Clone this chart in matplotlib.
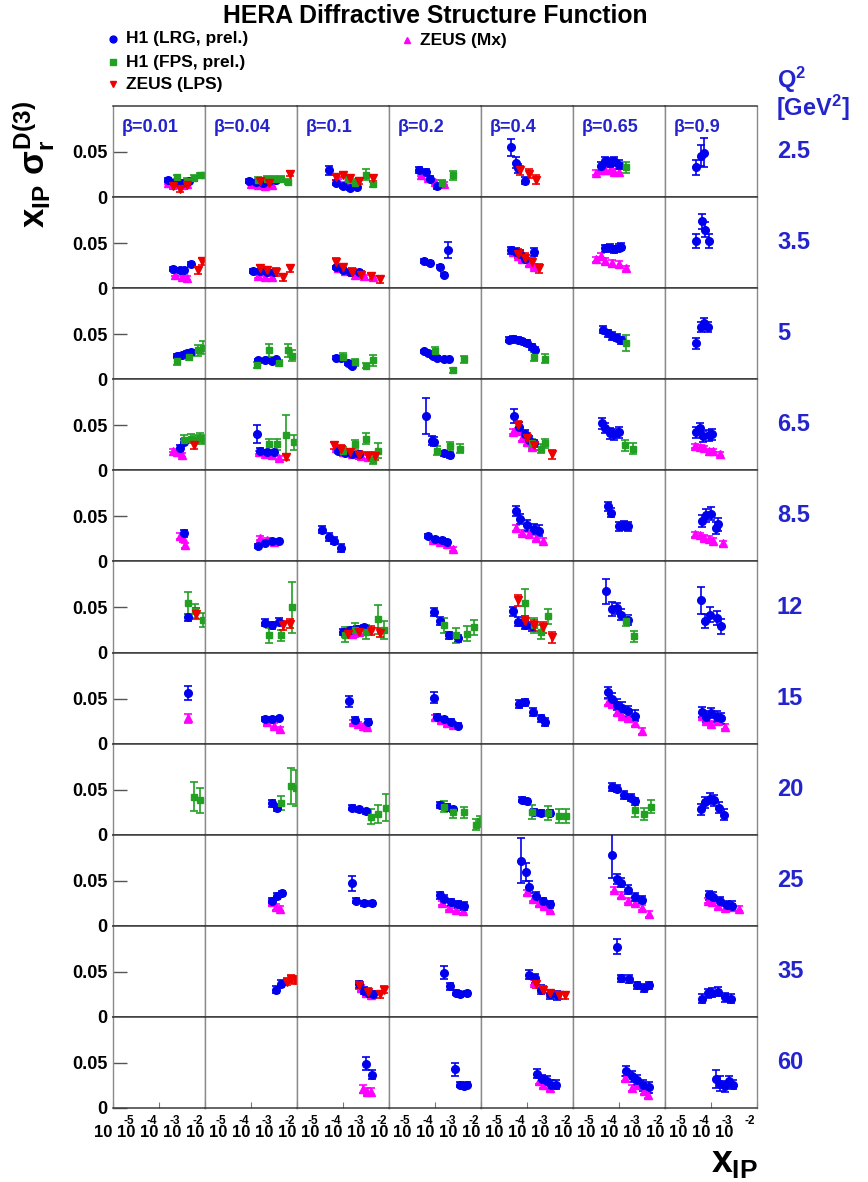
import numpy as np
import matplotlib.pyplot as plt
from matplotlib.lines import Line2D
from matplotlib.transforms import ScaledTranslation

# ---------------- data ----------------
q2_values = ["2.5", "3.5", "5", "6.5", "8.5", "12", "15", "20", "25", "35", "60"]
beta_values = ["0.01", "0.04", "0.1", "0.2", "0.4", "0.65", "0.9"]
xlabel_exps = [-5, -4, -3, -2]

# each entry: (Q2 row, beta column, log10 x_IP, x_IP sigma_r^D(3), error)
h1_lrg = [
    (0, 0, [-3.6, -3.3, -3.0, -2.7], [0.019, 0.017, 0.016, 0.018], 0.002),
    (0, 1, [-4.1, -3.8, -3.5, -3.2, -2.9], [0.018, 0.017, 0.016, 0.018, 0.019], 0.002),
    (0, 2, [-4.6, -4.3, -4.0, -3.7, -3.4], [0.030, 0.016, 0.012, 0.010, 0.011], [0.005, 0.003, 0.002, 0.002, 0.002]),
    (0, 3, [-4.7, -4.4, -4.2, -3.9], [0.030, 0.028, 0.020, 0.012], 0.003),
    (0, 4, [-4.7, -4.5, -4.4, -4.1], [0.055, 0.038, 0.032, 0.018], [0.009, 0.006, 0.005, 0.004]),
    (0, 5, [-4.8, -4.6, -4.4, -4.2, -4.0], [0.034, 0.040, 0.038, 0.040, 0.036], 0.005),
    (0, 6, [-4.65, -4.45, -4.3], [0.033, 0.046, 0.049], [0.008, 0.012, 0.016]),
    (1, 0, [-3.4, -3.1, -2.9, -2.6], [0.021, 0.020, 0.020, 0.027], 0.002),
    (1, 1, [-3.9, -3.6, -3.3, -3.0], [0.019, 0.019, 0.018, 0.018], 0.002),
    (1, 2, [-4.3, -4.0, -3.7, -3.3], [0.023, 0.020, 0.018, 0.018], 0.002),
    (1, 3, [-4.5, -4.2, -3.8, -3.6, -3.45], [0.030, 0.028, 0.024, 0.015, 0.042], [0.002, 0.002, 0.002, 0.002, 0.009]),
    (1, 4, [-4.7, -4.5, -4.3, -4.1, -3.7], [0.042, 0.040, 0.038, 0.032, 0.040], 0.004),
    (1, 5, [-4.6, -4.4, -4.2, -4.0, -3.9], [0.044, 0.045, 0.043, 0.045, 0.046], 0.004),
    (1, 6, [-4.65, -4.4, -4.25, -4.1], [0.052, 0.074, 0.065, 0.052], 0.008),
    (2, 0, [-3.2, -3.0, -2.8, -2.6], [0.026, 0.027, 0.029, 0.030], 0.002),
    (2, 1, [-3.7, -3.4, -3.1, -2.9], [0.021, 0.021, 0.020, 0.022], 0.002),
    (2, 2, [-4.3, -4.1, -3.8, -3.6], [0.024, 0.024, 0.018, 0.015], 0.002),
    (2, 3, [-4.5, -4.3, -4.1, -3.9, -3.6, -3.4], [0.031, 0.029, 0.026, 0.024, 0.022, 0.022], 0.002),
    (2, 4, [-4.8, -4.6, -4.4, -4.2, -4.0, -3.8, -3.65], [0.044, 0.045, 0.044, 0.042, 0.040, 0.036, 0.033], 0.003),
    (2, 5, [-4.7, -4.5, -4.3, -4.1, -3.9], [0.055, 0.051, 0.048, 0.046, 0.043], 0.004),
    (2, 6, [-4.65, -4.45, -4.3, -4.15], [0.040, 0.058, 0.062, 0.058], 0.006),
    (3, 0, [-3.1, -2.9], [0.025, 0.032], 0.003),
    (3, 1, [-3.75, -3.6, -3.3, -3.0], [0.040, 0.022, 0.020, 0.020], [0.010, 0.003, 0.003, 0.003]),
    (3, 2, [-4.2, -3.9, -3.6, -3.3], [0.021, 0.019, 0.018, 0.018], 0.002),
    (3, 3, [-4.4, -4.15, -4.05, -3.6, -3.35], [0.060, 0.033, 0.032, 0.019, 0.017], [0.020, 0.005, 0.005, 0.003, 0.003]),
    (3, 4, [-4.55, -4.35, -4.1, -3.9, -3.7], [0.060, 0.048, 0.040, 0.034, 0.030], [0.008, 0.006, 0.005, 0.004, 0.004]),
    (3, 5, [-4.75, -4.6, -4.4, -4.2, -4.0], [0.052, 0.047, 0.041, 0.040, 0.042], 0.006),
    (3, 6, [-4.65, -4.5, -4.35, -4.1, -3.95], [0.042, 0.047, 0.038, 0.039, 0.040], 0.006),
    (4, 0, [-2.9], [0.031], 0.004),
    (4, 1, [-3.7, -3.4, -3.1, -2.8], [0.017, 0.021, 0.023, 0.023], 0.002),
    (4, 2, [-4.9, -4.6, -4.4, -4.1], [0.035, 0.027, 0.023, 0.015], 0.004),
    (4, 3, [-4.3, -4.0, -3.7, -3.5], [0.028, 0.025, 0.024, 0.022], 0.002),
    (4, 4, [-4.5, -4.3, -4.0, -3.7, -3.5], [0.056, 0.047, 0.040, 0.036, 0.034], 0.006),
    (4, 5, [-4.5, -4.35, -4.0, -3.8, -3.6], [0.061, 0.054, 0.039, 0.040, 0.039], 0.005),
    (4, 6, [-4.4, -4.2, -4.0, -3.8, -3.7], [0.045, 0.051, 0.053, 0.037, 0.041], 0.007),
    (5, 0, [-2.75], [0.039], 0.004),
    (5, 1, [-3.4, -3.1, -2.8], [0.033, 0.030, 0.034], 0.004),
    (5, 2, [-4.0, -3.7, -3.4, -3.1], [0.023, 0.025, 0.026, 0.028], 0.003),
    (5, 3, [-4.05, -3.8, -3.4, -3.0], [0.045, 0.035, 0.019, 0.016], 0.004),
    (5, 4, [-4.6, -4.4, -4.1, -3.8], [0.046, 0.034, 0.031, 0.029], 0.005),
    (5, 5, [-4.55, -4.3, -4.1, -3.9, -3.6], [0.068, 0.048, 0.049, 0.042, 0.036], [0.014, 0.008, 0.006, 0.006, 0.006]),
    (5, 6, [-4.45, -4.25, -4.05, -3.75, -3.55], [0.058, 0.035, 0.042, 0.038, 0.029], [0.015, 0.008, 0.008, 0.008, 0.008]),
    (6, 0, [-2.75], [0.056], 0.008),
    (6, 1, [-3.4, -3.1, -2.8], [0.027, 0.027, 0.028], 0.002),
    (6, 2, [-3.75, -3.5, -2.9], [0.047, 0.026, 0.024], [0.006, 0.003, 0.003]),
    (6, 3, [-4.05, -3.9, -3.6, -3.3, -3.0], [0.051, 0.030, 0.027, 0.024, 0.020], [0.006, 0.003, 0.003, 0.003, 0.003]),
    (6, 4, [-4.35, -4.1, -3.75, -3.4, -3.2], [0.044, 0.046, 0.035, 0.028, 0.024], 0.004),
    (6, 5, [-4.5, -4.3, -4.1, -3.85, -3.6, -3.3], [0.057, 0.050, 0.043, 0.040, 0.036, 0.031], 0.006),
    (6, 6, [-4.4, -4.2, -4.0, -3.75, -3.55], [0.035, 0.030, 0.034, 0.030, 0.028], 0.006),
    (7, 1, [-3.1, -2.85], [0.035, 0.030], 0.004),
    (7, 2, [-3.6, -3.3, -3.0], [0.030, 0.028, 0.026], 0.003),
    (7, 3, [-3.8, -3.5, -3.2], [0.033, 0.031, 0.028], 0.003),
    (7, 4, [-4.2, -4.0, -3.7, -3.4, -3.0], [0.039, 0.037, 0.025, 0.024, 0.024], 0.003),
    (7, 5, [-4.3, -4.1, -3.8, -3.5, -3.3], [0.053, 0.051, 0.044, 0.041, 0.037], 0.004),
    (7, 6, [-4.45, -4.25, -4.05, -3.85, -3.65, -3.45], [0.028, 0.036, 0.040, 0.038, 0.030, 0.022], 0.006),
    (8, 1, [-3.1, -2.85, -2.65], [0.028, 0.033, 0.036], 0.003),
    (8, 2, [-3.6, -3.45, -3.1, -2.75], [0.047, 0.028, 0.025, 0.025], [0.008, 0.003, 0.003, 0.003]),
    (8, 3, [-3.8, -3.6, -3.3, -3.0, -2.75], [0.034, 0.030, 0.026, 0.024, 0.022], 0.004),
    (8, 4, [-4.25, -4.05, -3.9, -3.6, -3.3, -3.0], [0.072, 0.060, 0.043, 0.033, 0.027, 0.024], [0.025, 0.010, 0.007, 0.005, 0.004, 0.004]),
    (8, 5, [-4.3, -4.1, -3.9, -3.6, -3.3, -3.0], [0.078, 0.052, 0.048, 0.040, 0.032, 0.029], [0.025, 0.006, 0.005, 0.005, 0.004, 0.004]),
    (8, 6, [-4.1, -3.9, -3.6, -3.3, -3.1], [0.034, 0.032, 0.027, 0.023, 0.022], 0.005),
    (9, 1, [-2.9, -2.7], [0.030, 0.037], 0.004),
    (9, 2, [-3.3, -3.1, -2.9, -2.7], [0.036, 0.029, 0.027, 0.025], 0.004),
    (9, 3, [-3.6, -3.35, -3.1, -2.9, -2.6], [0.049, 0.034, 0.027, 0.025, 0.026], [0.007, 0.004, 0.003, 0.003, 0.003]),
    (9, 4, [-3.9, -3.65, -3.4, -3.0, -2.7], [0.047, 0.043, 0.030, 0.025, 0.024], 0.005),
    (9, 5, [-4.1, -3.9, -3.55, -3.2, -2.9, -2.7], [0.078, 0.043, 0.042, 0.035, 0.032, 0.035], [0.008, 0.004, 0.004, 0.004, 0.004, 0.004]),
    (9, 6, [-4.4, -4.15, -3.95, -3.7, -3.4, -3.15], [0.020, 0.026, 0.027, 0.028, 0.022, 0.020], 0.005),
    (10, 2, [-3.0, -2.75], [0.049, 0.037], [0.007, 0.005]),
    (10, 3, [-3.15, -2.9, -2.75, -2.6], [0.043, 0.026, 0.024, 0.026], [0.007, 0.003, 0.003, 0.003]),
    (10, 4, [-3.55, -3.35, -3.15, -2.95, -2.75], [0.038, 0.032, 0.030, 0.026, 0.026], 0.005),
    (10, 5, [-3.7, -3.45, -3.2, -2.95, -2.7], [0.041, 0.035, 0.031, 0.025, 0.023], 0.006),
    (10, 6, [-3.8, -3.6, -3.4, -3.2, -3.05], [0.032, 0.027, 0.024, 0.030, 0.026], [0.010, 0.008, 0.006, 0.006, 0.005]),
]

h1_fps = [
    (0, 0, [-3.2, -2.8, -2.5, -2.2, -2.05], [0.022, 0.018, 0.021, 0.024, 0.024], 0.003),
    (0, 1, [-3.7, -3.3, -3.0, -2.7, -2.4], [0.019, 0.020, 0.020, 0.020, 0.017], 0.003),
    (0, 2, [-3.8, -3.5, -3.0, -2.7], [0.020, 0.016, 0.025, 0.014], [0.004, 0.004, 0.006, 0.003]),
    (0, 3, [-3.7, -3.2], [0.016, 0.024], [0.003, 0.005]),
    (0, 5, [-3.7], [0.033], 0.006),
    (2, 0, [-3.2, -2.7, -2.3, -2.1], [0.020, 0.025, 0.032, 0.035], [0.004, 0.004, 0.006, 0.007]),
    (2, 1, [-3.75, -3.2, -2.8, -2.4, -2.2], [0.016, 0.032, 0.018, 0.032, 0.026], [0.003, 0.007, 0.003, 0.007, 0.006]),
    (2, 2, [-4.0, -3.5, -3.0, -2.7], [0.025, 0.019, 0.015, 0.021], [0.004, 0.004, 0.003, 0.006]),
    (2, 3, [-4.0, -3.2, -2.75], [0.031, 0.010, 0.022], [0.005, 0.003, 0.004]),
    (2, 4, [-3.7, -3.2], [0.025, 0.023], 0.005),
    (2, 5, [-3.7], [0.040], 0.009),
    (3, 0, [-2.9, -2.6, -2.4, -2.2, -2.05], [0.034, 0.035, 0.034, 0.036, 0.034], 0.005),
    (3, 1, [-3.2, -2.85, -2.5, -2.15], [0.029, 0.029, 0.039, 0.031], [0.006, 0.006, 0.022, 0.008]),
    (3, 2, [-4.0, -3.5, -3.0, -2.7, -2.5], [0.022, 0.029, 0.035, 0.011, 0.022], [0.004, 0.005, 0.006, 0.004, 0.008]),
    (3, 3, [-3.9, -3.35, -2.9], [0.022, 0.027, 0.024], 0.005),
    (3, 4, [-3.8, -3.4, -3.2], [0.030, 0.024, 0.030], 0.005),
    (3, 5, [-3.75, -3.4], [0.028, 0.024], 0.006),
    (5, 0, [-2.75, -2.45, -2.1], [0.055, 0.046, 0.036], [0.012, 0.008, 0.008]),
    (5, 1, [-3.2, -2.7, -2.2], [0.019, 0.019, 0.050], [0.008, 0.006, 0.028]),
    (5, 2, [-3.9, -3.5, -3.0, -2.5, -2.2], [0.020, 0.025, 0.023, 0.037, 0.025], [0.008, 0.008, 0.008, 0.016, 0.010]),
    (5, 3, [-3.6, -3.1, -2.6, -2.3], [0.030, 0.019, 0.021, 0.028], 0.008),
    (5, 4, [-4.1, -3.7, -3.4, -3.1], [0.055, 0.030, 0.023, 0.040], [0.015, 0.008, 0.008, 0.008]),
    (5, 5, [-3.7, -3.35], [0.035, 0.018], 0.006),
    (7, 0, [-2.5, -2.2], [0.042, 0.038], [0.016, 0.014]),
    (7, 1, [-2.7, -2.25, -2.05], [0.035, 0.054, 0.052], [0.008, 0.020, 0.020]),
    (7, 2, [-2.8, -2.5, -2.15], [0.020, 0.023, 0.030], [0.008, 0.010, 0.015]),
    (7, 3, [-3.6, -3.2, -2.75, -2.2, -2.05], [0.031, 0.025, 0.025, 0.011, 0.015], 0.006),
    (7, 4, [-3.8, -3.1, -2.6, -2.3], [0.025, 0.024, 0.021, 0.021], 0.008),
    (7, 5, [-3.3, -2.9, -2.6], [0.027, 0.023, 0.031], 0.007),
]

zeus_lps = [
    (0, 0, [-3.4, -3.1, -2.8], [0.012, 0.009, 0.013], 0.003),
    (0, 1, [-3.6, -3.2, -2.3], [0.018, 0.016, 0.026], 0.003),
    (0, 2, [-4.3, -4.0, -3.7, -3.3, -2.7], [0.022, 0.025, 0.021, 0.018, 0.021], 0.003),
    (0, 4, [-4.3, -3.9, -3.6], [0.030, 0.026, 0.019], 0.005),
    (1, 0, [-2.3, -2.15], [0.020, 0.030], 0.004),
    (1, 1, [-3.6, -3.3, -2.9, -2.6, -2.3], [0.022, 0.020, 0.018, 0.012, 0.022], 0.004),
    (1, 2, [-4.3, -4.0, -3.6, -3.2, -2.8, -2.4], [0.029, 0.023, 0.018, 0.015, 0.013, 0.010], 0.004),
    (1, 4, [-4.4, -4.1, -3.8, -3.5], [0.038, 0.034, 0.029, 0.022], 0.005),
    (3, 0, [-2.5], [0.028], 0.004),
    (3, 1, [-2.5], [0.015], 0.003),
    (3, 2, [-4.4, -4.1, -3.7, -3.3, -2.9, -2.6], [0.028, 0.024, 0.020, 0.017, 0.016, 0.016], 0.004),
    (3, 4, [-4.4, -4.0, -3.7, -2.9], [0.050, 0.036, 0.028, 0.018], 0.005),
    (5, 0, [-2.4], [0.043], 0.006),
    (5, 1, [-2.6, -2.3], [0.030, 0.032], 0.005),
    (5, 2, [-3.8, -3.3, -2.8, -2.4], [0.021, 0.023, 0.024, 0.022], 0.005),
    (5, 4, [-4.4, -4.1, -3.7, -3.3, -2.9], [0.058, 0.035, 0.030, 0.028, 0.017], 0.006),
    (9, 1, [-2.45, -2.25, -2.1], [0.039, 0.042, 0.041], 0.004),
    (9, 2, [-3.3, -2.9, -2.4, -2.2], [0.035, 0.028, 0.025, 0.030], 0.004),
    (9, 4, [-3.6, -3.3, -3.0, -2.6, -2.35], [0.036, 0.030, 0.026, 0.024, 0.024], 0.004),
]

zeus_mx = [
    (0, 0, [-3.6, -3.4, -3.2, -3.0, -2.8], [0.016, 0.015, 0.014, 0.013, 0.015], 0.002),
    (0, 1, [-4.0, -3.7, -3.4, -3.1], [0.015, 0.013, 0.012, 0.013], 0.002),
    (0, 2, [-4.2, -3.9], [0.018, 0.015], 0.002),
    (0, 3, [-4.6, -4.3, -4.0, -3.6], [0.025, 0.021, 0.017, 0.015], 0.002),
    (0, 5, [-5.0, -4.8, -4.6, -4.4, -4.2, -4.0], [0.027, 0.030, 0.030, 0.030, 0.028, 0.028], 0.003),
    (1, 0, [-3.3, -3.0, -2.8], [0.015, 0.012, 0.011], 0.002),
    (1, 1, [-3.7, -3.4, -3.1], [0.013, 0.012, 0.012], 0.002),
    (1, 2, [-4.2, -3.9, -3.5, -3.1, -2.7], [0.022, 0.019, 0.015, 0.013, 0.012], 0.002),
    (1, 4, [-4.6, -4.4, -4.2, -3.9, -3.7], [0.040, 0.036, 0.032, 0.028, 0.024], 0.003),
    (1, 5, [-5.0, -4.8, -4.6, -4.3, -4.0, -3.7], [0.032, 0.036, 0.030, 0.028, 0.027, 0.022], 0.003),
    (3, 0, [-3.4, -3.2, -3.0], [0.022, 0.020, 0.017], 0.002),
    (3, 1, [-3.65, -3.4, -3.1, -2.8], [0.020, 0.018, 0.017, 0.014], 0.002),
    (3, 2, [-4.3, -4.0, -3.6, -3.2, -2.9], [0.025, 0.020, 0.018, 0.016, 0.015], 0.002),
    (3, 4, [-4.6, -4.4, -4.2, -4.0, -3.8], [0.043, 0.044, 0.036, 0.031, 0.026], 0.003),
    (3, 6, [-4.7, -4.5, -4.3, -4.1, -3.9, -3.6], [0.027, 0.026, 0.025, 0.022, 0.022, 0.018], 0.002),
    (4, 0, [-3.1, -2.95, -2.85], [0.028, 0.026, 0.018], 0.003),
    (4, 1, [-3.6, -3.3, -3.0], [0.026, 0.024, 0.022], 0.002),
    (4, 3, [-4.1, -3.8, -3.5, -3.2], [0.024, 0.022, 0.019, 0.014], 0.002),
    (4, 4, [-4.5, -4.2, -3.9, -3.6, -3.3], [0.037, 0.032, 0.030, 0.026, 0.023], 0.003),
    (4, 6, [-4.7, -4.5, -4.3, -4.1, -3.9, -3.5], [0.030, 0.029, 0.026, 0.025, 0.023, 0.020], 0.003),
    (5, 2, [-3.9, -3.6, -3.3], [0.022, 0.021, 0.023], 0.003),
    (6, 0, [-2.75], [0.028], 0.005),
    (6, 1, [-3.3, -3.0, -2.75], [0.024, 0.020, 0.016], 0.003),
    (6, 2, [-3.55, -3.35, -3.15, -2.95], [0.024, 0.022, 0.020, 0.019], 0.002),
    (6, 3, [-4.0, -3.75, -3.5, -3.2], [0.029, 0.026, 0.023, 0.021], 0.003),
    (6, 5, [-4.5, -4.3, -4.1, -3.85, -3.6, -3.3, -3.0], [0.046, 0.044, 0.035, 0.031, 0.028, 0.023, 0.014], 0.003),
    (6, 6, [-4.4, -4.2, -4.0, -3.7, -3.4], [0.031, 0.025, 0.022, 0.025, 0.019], 0.003),
    (8, 1, [-3.1, -2.9, -2.75], [0.026, 0.021, 0.019], 0.003),
    (8, 3, [-3.7, -3.4, -3.1, -2.8], [0.025, 0.020, 0.018, 0.016], 0.002),
    (8, 4, [-4.0, -3.75, -3.5, -3.25, -3.0], [0.037, 0.030, 0.025, 0.022, 0.018], 0.003),
    (8, 5, [-4.2, -3.9, -3.6, -3.3, -3.0, -2.7], [0.040, 0.034, 0.028, 0.025, 0.020, 0.013], 0.003),
    (8, 6, [-4.15, -3.95, -3.7, -3.4, -3.1, -2.8], [0.028, 0.026, 0.022, 0.020, 0.021, 0.019], 0.003),
    (9, 2, [-3.2, -3.0, -2.8], [0.032, 0.026, 0.024], 0.003),
    (9, 4, [-3.7, -3.4], [0.038, 0.031], 0.003),
    (10, 2, [-3.15, -2.95, -2.8], [0.021, 0.018, 0.018], 0.004),
    (10, 4, [-3.5, -3.3, -3.0], [0.030, 0.025, 0.022], 0.003),
    (10, 5, [-3.75, -3.45, -3.2, -2.9, -2.75], [0.033, 0.022, 0.025, 0.019, 0.014], 0.003),
]

# ---------------- style ----------------
plt.rcParams['font.family'] = ['Liberation Sans', 'DejaVu Sans']
plt.rcParams['font.weight'] = 'bold'
plt.rcParams['mathtext.fontset'] = 'custom'
plt.rcParams['mathtext.rm'] = 'Liberation Sans:bold'
plt.rcParams['mathtext.it'] = 'Liberation Sans:bold'
plt.rcParams['mathtext.bf'] = 'Liberation Sans:bold'

BLUE_TXT = '#2424cc'
series = [
    (zeus_mx, '^', '#ff00ff', 5.5, 'ZEUS (Mx)'),
    (h1_lrg, 'o', '#0000ee', 5.5, 'H1 (LRG, prel.)'),
    (h1_fps, 's', '#22a022', 4.8, 'H1 (FPS, prel.)'),
    (zeus_lps, 'v', '#ee0000', 5.5, 'ZEUS (LPS)'),
]

W, H = 868, 1182
x0, x1, y0, y1 = 113, 757, 106, 1108
nrow, ncol = len(q2_values), len(beta_values)

fig = plt.figure(figsize=(W / 100, H / 100), dpi=100)
fig.subplots_adjust(left=x0 / W, right=x1 / W, top=1 - y0 / H, bottom=1 - y1 / H,
                    wspace=0, hspace=0)
axes = fig.subplots(nrow, ncol, sharex=True, sharey=True)


def fx(px):
    return px / W


def fy(py):
    return 1 - py / H


for iq in range(nrow):
    for ib in range(ncol):
        ax = axes[iq][ib]
        ax.set_xscale('log')
        ax.set_xlim(1e-6, 1e-2)
        ax.set_ylim(0, 0.101)
        for side in ['left', 'right']:
            ax.spines[side].set_color('#8a8a8a')
            ax.spines[side].set_linewidth(1.0)
        for side in ['top', 'bottom']:
            ax.spines[side].set_color('#3a3a3a')
            ax.spines[side].set_linewidth(1.1)
        ax.tick_params(which='both', direction='in', labelleft=False, labelbottom=False,
                       left=False, bottom=False, top=False, right=False)
        if ib == 0:
            ax.set_yticks([0, 0.05])
            ax.set_yticklabels(['0', '0.05'])
            ax.tick_params(axis='y', left=True, labelleft=True, length=10, width=1,
                           color='#555555', labelsize=13, pad=4)
        if iq == nrow - 1:
            ax.tick_params(axis='x', which='major', bottom=True, length=4, width=0.8,
                           color='#777777')
            ax.tick_params(axis='x', which='minor', bottom=True, length=2, width=0.6,
                           color='#999999')

# data points
for data, mk, col, ms, lab in series:
    for iq, ib, lx, yv, err in data:
        ax = axes[iq][ib]
        xs = 10.0 ** np.array(lx)
        ys = np.array(yv)
        es = np.broadcast_to(np.array(err, dtype=float), ys.shape)
        ax.errorbar(xs, ys, yerr=es, fmt=mk, color=col, ms=ms, mec=col, mfc=col,
                    elinewidth=1.2, capsize=2.8, capthick=1.2, zorder=3)

# beta labels
for ib, b in enumerate(beta_values):
    axes[0][ib].text(0.1, 0.76, '\u03b2=' + b, transform=axes[0][ib].transAxes,
                     color=BLUE_TXT, fontsize=13, fontweight='bold', va='center')

# x tick labels drawn ROOT-like: "10" with exponent above
for ib in range(ncol):
    ax = axes[-1][ib]
    base = ax.get_xaxis_transform()
    t10 = base + ScaledTranslation(-0.10, -0.245, fig.dpi_scale_trans)
    tex = base + ScaledTranslation(-0.07, -0.13, fig.dpi_scale_trans)
    for e in xlabel_exps:
        if not (ib == ncol - 1 and e == xlabel_exps[-1]):
            ax.text(10.0 ** e, 0, '10', transform=t10, ha='center', va='center',
                    fontsize=12, fontweight='bold')
        ax.text(10.0 ** e, 0, str(e), transform=tex, ha='center', va='center',
                fontsize=8.5, fontweight='bold')
axes[-1][0].text(1e-6, 0, '10',
                 transform=axes[-1][0].get_xaxis_transform()
                 + ScaledTranslation(-0.10, -0.245, fig.dpi_scale_trans),
                 ha='center', va='center', fontsize=12, fontweight='bold')

# Q2 labels on the right
fig.text(fx(777), fy(80), r'Q$^{2}$', color=BLUE_TXT, fontsize=17, fontweight='bold',
         ha='left', va='center')
fig.text(fx(776), fy(108), r'[GeV$^{2}$]', color=BLUE_TXT, fontsize=17, fontweight='bold',
         ha='left', va='center')
row_h = (y1 - y0) / nrow
for iq, q in enumerate(q2_values):
    fig.text(fx(777), fy(y0 + row_h * (iq + 0.5)), q, color=BLUE_TXT, fontsize=17,
             fontweight='bold', ha='left', va='center')

# title
fig.text(fx(435), fy(16), 'HERA Diffractive Structure Function', fontsize=17.8,
         fontweight='bold', ha='center', va='center')

# legend
leg_pos = {'H1 (LRG, prel.)': (113, 39), 'H1 (FPS, prel.)': (113, 62),
           'ZEUS (LPS)': (113, 84), 'ZEUS (Mx)': (407, 40)}
for data, mk, col, ms, lab in series:
    px, py = leg_pos[lab]
    fig.add_artist(Line2D([fx(px)], [fy(py)], marker=mk, color=col, ms=ms * 0.9,
                          linestyle='none', transform=fig.transFigure))
    fig.text(fx(px + 13), fy(py), lab, fontsize=12.5, fontweight='bold',
             ha='left', va='center')

# axis titles
fig.text(fx(33), fy(165), r'$x_{IP}\ \sigma_{r}^{D(3)}$', rotation=90, fontsize=25,
         ha='center', va='center')
fig.text(fx(758), fy(1163), r'$x_{IP}$', fontsize=27, ha='right', va='center')

fig.savefig('out.png', dpi=100)
